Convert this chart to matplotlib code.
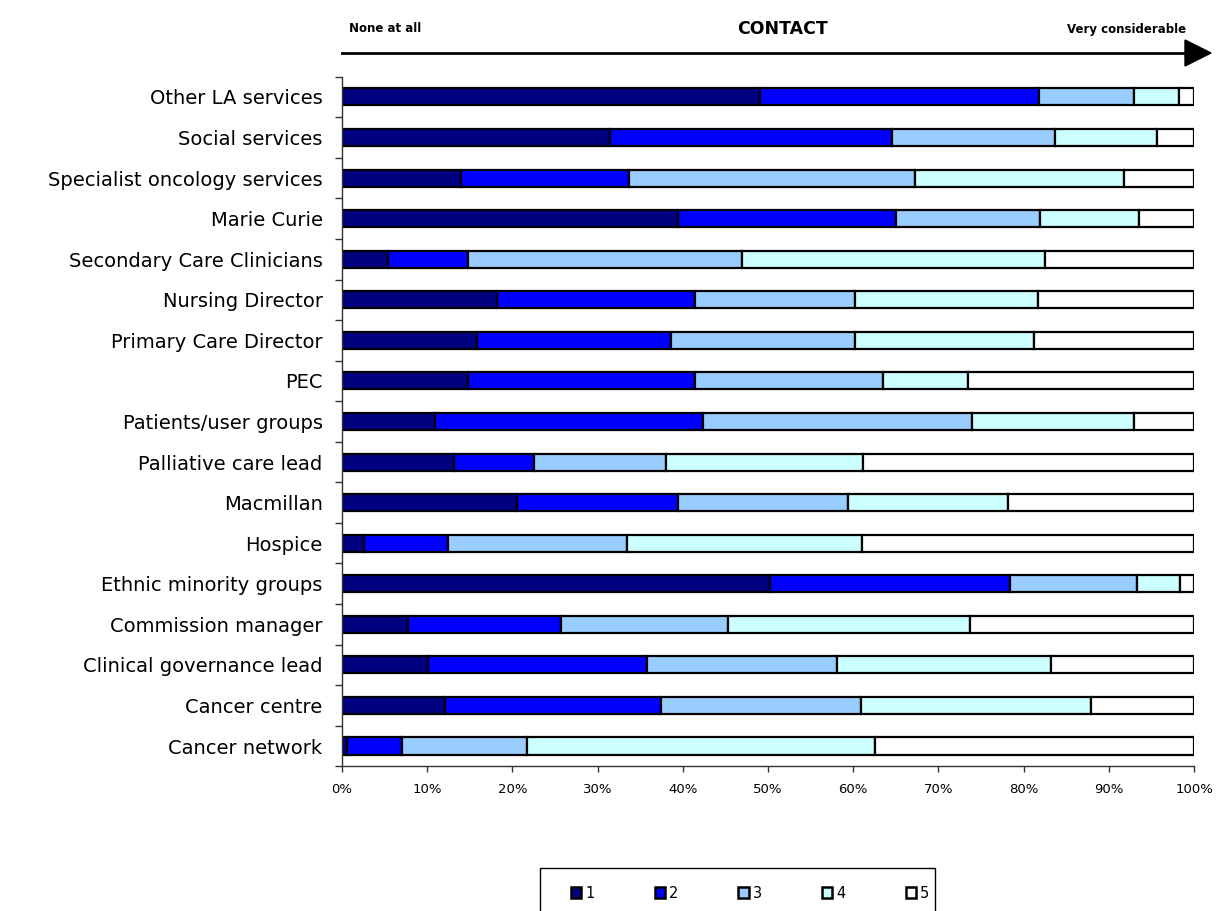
import matplotlib.pyplot as plt
from matplotlib.patches import Patch, Rectangle
import numpy as np

plt.rcParams['font.family'] = ['DejaVu Sans']

categories = [
    'Other LA services', 'Social services', 'Specialist oncology services',
    'Marie Curie', 'Secondary Care Clinicians', 'Nursing Director',
    'Primary Care Director', 'PEC', 'Patients/user groups',
    'Palliative care lead', 'Macmillan', 'Hospice', 'Ethnic minority groups',
    'Commission manager', 'Clinical governance lead', 'Cancer centre',
    'Cancer network',
]

# percentage of respondents per contact rating (1 = none at all, 5 = very considerable)
rating_1 = [49.1, 31.5, 14.0, 39.4, 5.4, 18.2, 15.9, 14.8, 10.9, 13.1, 20.5, 2.6, 50.2, 7.7, 10.1, 12.1, 0.6]
rating_2 = [32.7, 33.1, 19.7, 25.6, 9.4, 23.2, 22.7, 26.6, 31.5, 9.4, 18.9, 9.8, 28.2, 18.0, 25.7, 25.3, 6.4]
rating_3 = [11.1, 19.1, 33.6, 16.9, 32.1, 18.8, 21.6, 22.1, 31.6, 15.5, 20.0, 21.1, 14.9, 19.6, 22.3, 23.5, 14.7]
rating_4 = [5.3, 11.9, 24.5, 11.6, 35.6, 21.5, 21.0, 10.0, 18.9, 23.2, 18.8, 27.5, 5.0, 28.4, 25.1, 27.0, 40.8]
rating_5 = [1.8, 4.4, 8.2, 6.5, 17.5, 18.3, 18.8, 26.5, 7.1, 38.8, 21.8, 39.0, 1.7, 26.3, 16.8, 12.1, 37.5]

series_labels = ['1', '2', '3', '4', '5']
colours = ['#000080', '#0000ff', '#99ccff', '#ccffff', '#ffffff']

fig = plt.figure(figsize=(12.16, 9.11), dpi=100)
ax = fig.add_axes([0.28125, 0.15884, 0.70066, 0.75697])

y = np.arange(len(categories))
left = np.zeros(len(categories))
for vals, col in zip([rating_1, rating_2, rating_3, rating_4, rating_5], colours):
    vals = np.array(vals)
    ax.barh(y, vals, left=left, height=0.42, color=col, edgecolor='black', linewidth=1.6)
    left += vals

ax.set_xlim(0, 100)
ax.set_ylim(len(categories) - 0.5, -0.5)
ax.set_xticks(np.arange(0, 101, 10))
ax.set_xticklabels([f'{v}%' for v in range(0, 101, 10)], fontsize=9.5)
ax.set_yticks(y)
ax.set_yticklabels(categories, fontsize=14)
ax.set_yticks(np.arange(-0.5, len(categories), 1), minor=True)
ax.tick_params(axis='y', which='major', length=0, pad=14)
ax.tick_params(axis='y', which='minor', length=5, width=1, color='#333333')
ax.tick_params(axis='x', length=4, width=1, color='#333333', pad=8)

for side in ['top', 'right']:
    ax.spines[side].set_visible(False)
for side in ['left', 'bottom']:
    ax.spines[side].set_color('#333333')
    ax.spines[side].set_linewidth(1)

# scale arrow above the bars
fig.add_artist(plt.Line2D([342 / 1216, 1190 / 1216], [1 - 53 / 911] * 2,
                          color='black', linewidth=2, transform=fig.transFigure))
fig.add_artist(plt.Polygon([[1185 / 1216, 1 - 40 / 911], [1211 / 1216, 1 - 53 / 911],
                            [1185 / 1216, 1 - 66 / 911]], closed=True,
                           facecolor='black', edgecolor='black', transform=fig.transFigure))
fig.text(349 / 1216, 1 - 29 / 911, 'None at all', fontsize=8.5, fontweight='bold',
         ha='left', va='center')
fig.text(783 / 1216, 1 - 29 / 911, 'CONTACT', fontsize=12.5, fontweight='bold',
         ha='center', va='center')
fig.text(1186 / 1216, 1 - 29 / 911, 'Very considerable', fontsize=8.5, fontweight='bold',
         ha='right', va='center')

# legend box runs off the bottom edge
fig.add_artist(Rectangle((540 / 1216, -0.02), 395 / 1216, (911 - 868) / 911 + 0.02,
                         facecolor='white', edgecolor='black', linewidth=1,
                         transform=fig.transFigure))
handles = [Patch(facecolor=c, edgecolor='black', linewidth=1.8) for c in colours]
leg = fig.legend(handles, series_labels, loc='center left', bbox_to_anchor=(571 / 1216, 1 - 893 / 911),
                 ncol=5, fontsize=10.5, frameon=False, handlelength=0.7,
                 handleheight=0.7, handletextpad=0.3, columnspacing=4.1, borderpad=0,
                 borderaxespad=0)

fig.savefig('out.png', dpi=100)
